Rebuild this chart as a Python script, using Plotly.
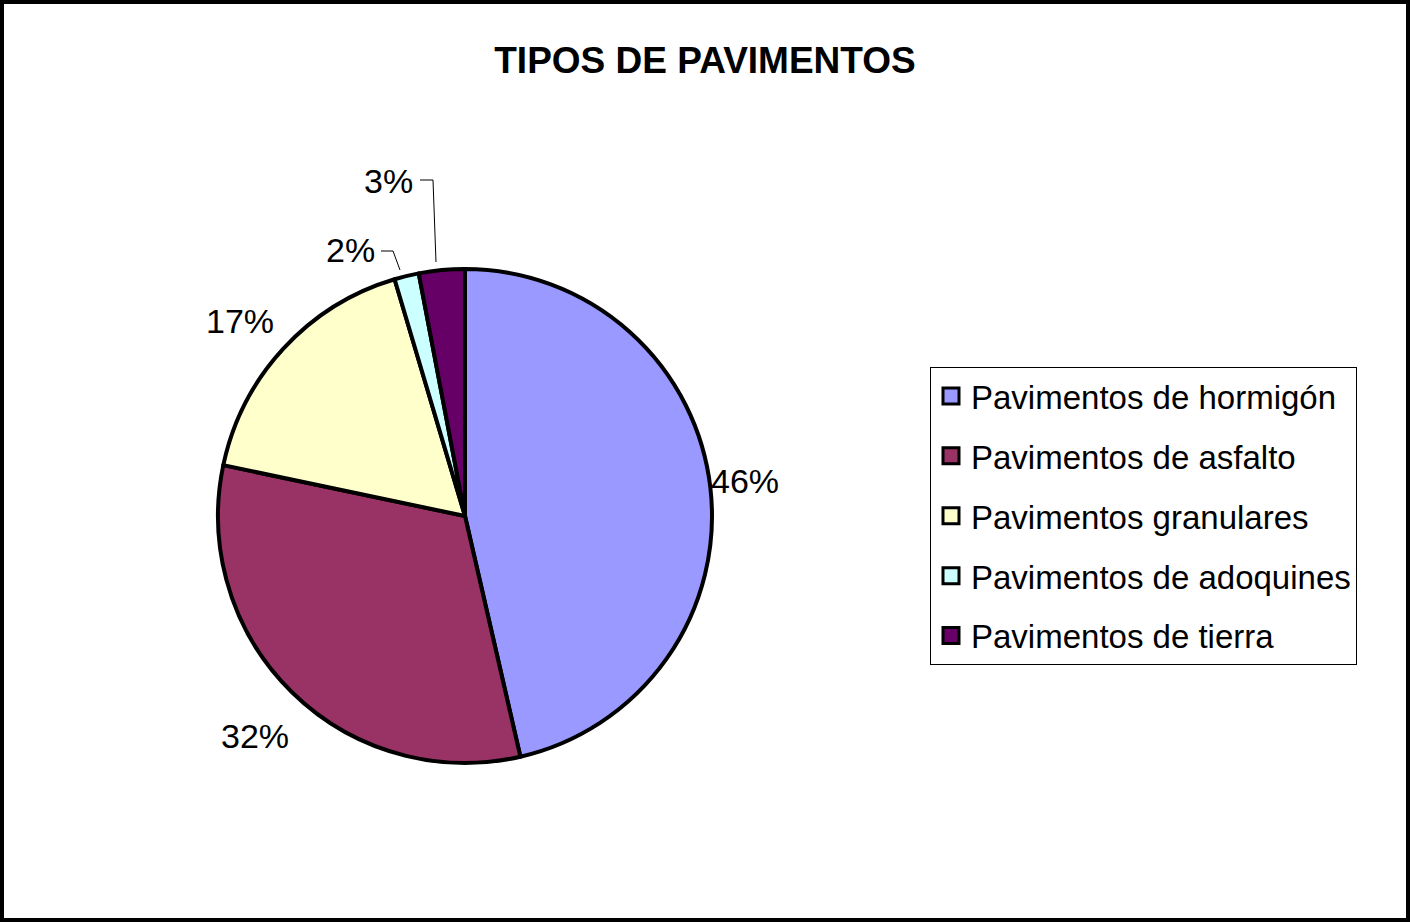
import plotly.graph_objects as go

categories = ["Pavimentos de hormigón", "Pavimentos de asfalto", "Pavimentos granulares",
              "Pavimentos de adoquines", "Pavimentos de tierra"]
values = [46.4, 31.9, 17.1, 1.6, 3.0]
colors = ["#9999FF", "#993366", "#FFFFCC", "#CCFFFF", "#660066"]
title_text = "TIPOS DE PAVIMENTOS"

W, H = 1410, 922

# label placement (pixel coords in the figure) for each slice's percentage
label_px = [(745, 481), (255, 736), (240, 321), (350, 250), (388, 181)]

total = sum(values)

fig = go.Figure()
fig.add_trace(go.Pie(
    labels=categories, values=values, sort=False, direction="clockwise", rotation=0,
    marker=dict(colors=colors, line=dict(color="black", width=4)),
    textinfo="none", hoverinfo="label+percent", showlegend=False,
    domain=dict(x=[(465 - 247) / W, (465 + 247) / W], y=[(406 - 251) / H, (406 + 251) / H]),
))

# legend entries
for c, col in zip(categories, colors):
    fig.add_trace(go.Scatter(
        x=[None], y=[None], mode="markers", name=c, legendgroup=c,
        marker=dict(symbol="square", size=22, color=col, line=dict(color="black", width=3)),
    ))

for v, (lx, ly) in zip(values, label_px):
    fig.add_annotation(x=lx / W, y=1 - ly / H, xref="paper", yref="paper", showarrow=False,
                       xanchor="center", yanchor="middle",
                       text=f"{round(v / total * 100)}%",
                       font=dict(family="Liberation Sans, Arial", size=34, color="black"))

# leader lines for the small slices
leaders = [
    [(381, 251), (393, 251), (400, 270)],
    [(420, 180), (433, 180), (436, 262)],
]
for pts in leaders:
    path = "M " + " L ".join(f"{x / W},{1 - y / H}" for x, y in pts)
    fig.add_shape(type="path", xref="paper", yref="paper", path=path,
                  line=dict(color="black", width=1))

# outer frame
fig.add_shape(type="rect", xref="paper", yref="paper", x0=0, y0=0, x1=1, y1=1,
              line=dict(color="black", width=8))

fig.update_layout(
    width=W, height=H, margin=dict(l=0, r=0, t=0, b=0),
    paper_bgcolor="white", plot_bgcolor="white",
    title=dict(text=f"<b>{title_text}</b>", x=0.5, xanchor="center", y=1 - 60 / H, yanchor="middle",
               font=dict(family="Liberation Sans, Arial", size=37, color="black")),
    xaxis=dict(visible=False), yaxis=dict(visible=False),
    legend=dict(x=930 / W, xanchor="left", y=1 - 367 / H, yanchor="top",
                bordercolor="black", borderwidth=1, bgcolor="white",
                font=dict(family="Liberation Sans, Arial", size=33, color="black"),
                tracegroupgap=14, itemclick=False),
    showlegend=True,
)

fig.write_html("out.html", config={"displayModeBar": False},
               post_script="document.body.style.margin='0';document.body.style.overflow='hidden';")
